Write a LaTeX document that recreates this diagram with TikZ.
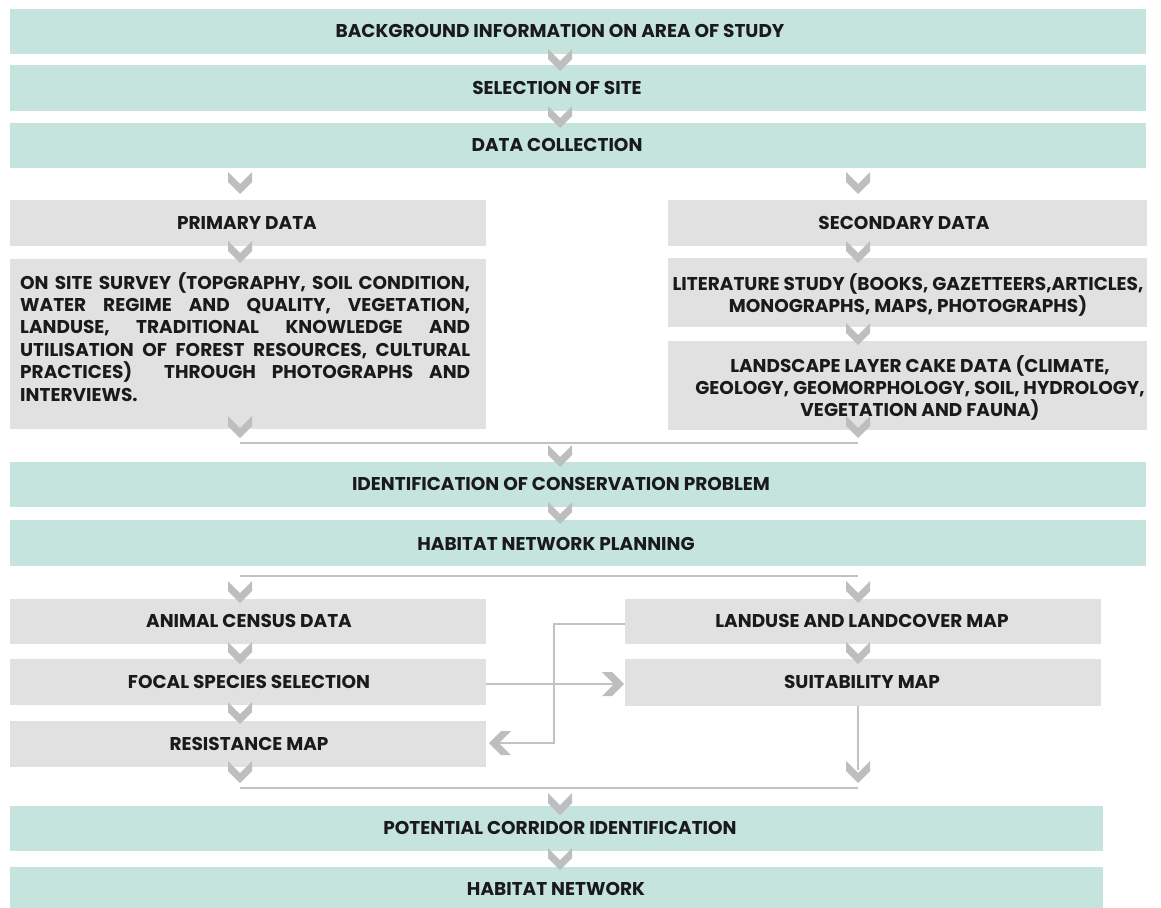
\documentclass[tikz,border=0pt]{standalone}
\usepackage{fontspec}
\setmainfont{Poppins}
\usetikzlibrary{calc}
\definecolor{tealc}{HTML}{C4E4DD}
\definecolor{grayc}{HTML}{E1E1E1}
\definecolor{chevc}{HTML}{BEBEBE}
\definecolor{linec}{HTML}{C2C2C2}
\definecolor{txtc}{HTML}{1A1A1A}
\tikzset{
  chevfill/.style={fill=chevc, draw=none},
  ln/.style={draw=linec, line width=2pt},
  tbox/.style={fill=tealc, draw=none, inner sep=0pt, anchor=north west},
  gbox/.style={fill=grayc, draw=none, inner sep=0pt, anchor=north west},
  lbl/.style={font=\bfseries\fontsize{18.5}{22.4}\selectfont, text=txtc, inner sep=0pt},
  chevd/.pic={\fill[chevfill] (-12,-11) -- (0,1) -- (12,-11) -- (12,-1) -- (0,11) -- (-12,-1) -- cycle;},
  chevr/.pic={\fill[chevfill] (-11,-12) -- (1,0) -- (-11,12) -- (-1,12) -- (11,0) -- (-1,-12) -- cycle;},
  chevl/.pic={\fill[chevfill] (11,-12) -- (-1,0) -- (11,12) -- (1,12) -- (-11,0) -- (1,-12) -- cycle;},
}
\begin{document}
\begin{tikzpicture}[x=1pt,y=-1pt]
\useasboundingbox (0,0) rectangle (1161,907);
% boxes
\node[tbox, minimum width=1136pt, minimum height=45pt] (b1) at (10,9) {};
\node[tbox, minimum width=1136pt, minimum height=46pt] (b2) at (10,65) {};
\node[tbox, minimum width=1136pt, minimum height=45pt] (b3) at (10,123) {};
\node[gbox, minimum width=476pt, minimum height=46pt] (pd) at (10,200) {};
\node[gbox, minimum width=479pt, minimum height=46pt] (sd) at (668,200) {};
\node[gbox, minimum width=476pt, minimum height=170pt] (sv) at (10,259) {};
\node[gbox, minimum width=479pt, minimum height=69pt] (lit) at (668,258) {};
\node[gbox, minimum width=479pt, minimum height=89pt] (lc) at (668,341) {};
\node[tbox, minimum width=1136pt, minimum height=45pt] (ic) at (10,462) {};
\node[tbox, minimum width=1136pt, minimum height=46pt] (hnp) at (10,520) {};
\node[gbox, minimum width=476pt, minimum height=45pt] (acd) at (10,599) {};
\node[gbox, minimum width=476pt, minimum height=45pt] (llm) at (625,599) {};
\node[gbox, minimum width=476pt, minimum height=46pt] (fss) at (10,659) {};
\node[gbox, minimum width=476pt, minimum height=47pt] (sm) at (625,659) {};
\node[gbox, minimum width=476pt, minimum height=46pt] (rm) at (10,721) {};
\node[tbox, minimum width=1093pt, minimum height=45pt] (pci) at (10,806) {};
\node[tbox, minimum width=1093pt, minimum height=45pt] (hn) at (10,867) {};
% labels
\node[lbl] (t1) at (560,31) {BACKGROUND INFORMATION ON AREA OF STUDY};
\node[lbl] (t2) at (557,88) {SELECTION OF SITE};
\node[lbl] (t3) at (557,145) {DATA COLLECTION};
\node[lbl] (tpd) at (247,223) {PRIMARY DATA};
\node[lbl] (tsd) at (904,223) {SECONDARY DATA};
\node[lbl, text width=450pt, align=justify, anchor=north west] (tsv) at (20,272) {\hyphenpenalty=10000\tolerance=10000
ON SITE SURVEY (TOPGRAPHY, SOIL CONDITION,\linebreak
WATER REGIME AND QUALITY, VEGETATION,\linebreak
LANDUSE, TRADITIONAL KNOWLEDGE AND\linebreak
UTILISATION OF FOREST RESOURCES, CULTURAL\linebreak
PRACTICES)\ \ THROUGH PHOTOGRAPHS AND\linebreak
INTERVIEWS.};
\node[lbl, align=center] (tlit) at (908,295) {LITERATURE STUDY (BOOKS, GAZETTEERS,ARTICLES,\\MONOGRAPHS, MAPS, PHOTOGRAPHS)};
\node[lbl, align=center] (tlc) at (920,388) {LANDSCAPE LAYER CAKE DATA (CLIMATE,\\GEOLOGY, GEOMORPHOLOGY, SOIL, HYDROLOGY,\\VEGETATION AND FAUNA)};
\node[lbl] (tic) at (561,484) {IDENTIFICATION OF CONSERVATION PROBLEM};
\node[lbl] (thnp) at (556,544) {HABITAT NETWORK PLANNING};
\node[lbl] (tacd) at (249,621) {ANIMAL CENSUS DATA};
\node[lbl] (tllm) at (862,621) {LANDUSE AND LANDCOVER MAP};
\node[lbl] (tfss) at (249,682) {FOCAL SPECIES SELECTION};
\node[lbl] (tsm) at (862,682) {SUITABILITY MAP};
\node[lbl] (trm) at (249,744) {RESISTANCE MAP};
\node[lbl] (tpci) at (560,828) {POTENTIAL CORRIDOR IDENTIFICATION};
\node[lbl] (thn) at (556,889) {HABITAT NETWORK};
% connector coordinates
\coordinate (m1a) at (240,443);
\coordinate (m1b) at (858,443);
\coordinate (s1a) at (240,576);
\coordinate (s1b) at (858,576);
\coordinate (m2a) at (240,788);
\coordinate (m2b) at (858,788);
\coordinate (bend1) at (554,624);
\coordinate (bend2) at (554,743);
\coordinate (lt) at (492,743);
\coordinate (rt) at (620,684);
\coordinate (st) at (858,770);
% lines
\draw[ln] (m1a) -- (m1b);
\draw[ln] (s1a) -- (s1b);
\draw[ln] (m2a) -- (m2b);
\draw[ln] (fss.east |- rt) -- (rt);
\draw[ln] (llm.west |- bend1) -- (bend1) -- (bend2) -- (lt);
\draw[ln] (sm.south -| st) -- (st);
% chevrons
\foreach \p in {(560,60),(560,117),(240,183),(858,183),(240,252),(858,252),(240,427),(858,334),(858,427),(560,456),(560,513),(240,592),(858,592),(240,653),(858,653),(240,713),(240,772),(858,772),(560,804),(560,859)}
  \pic at \p {chevd};
\pic at (613,684) {chevr};
\pic at (500,743) {chevl};
\end{tikzpicture}
\end{document}
